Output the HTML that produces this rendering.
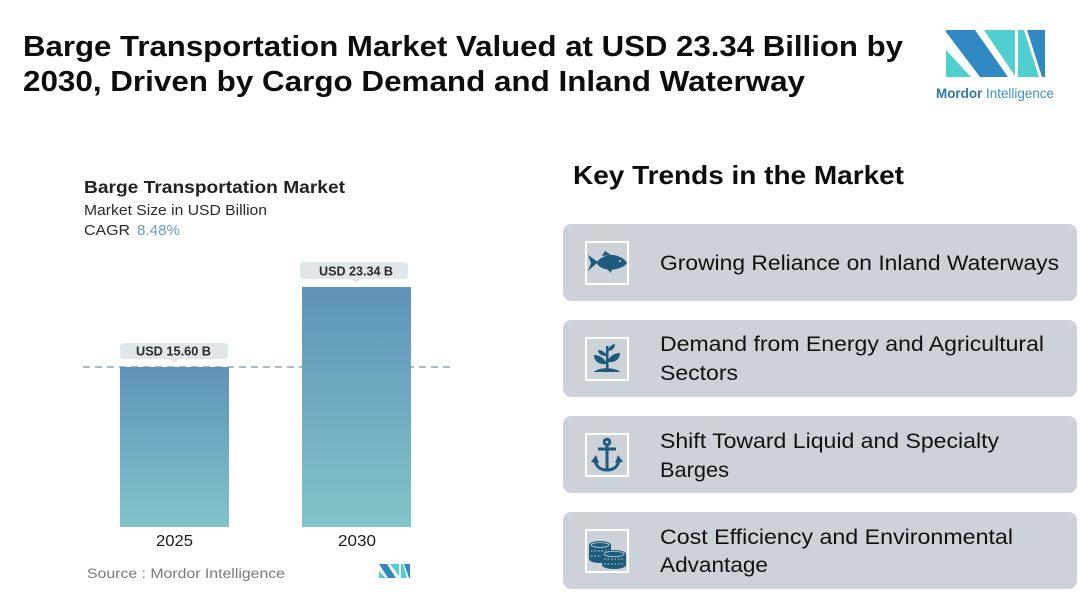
<!DOCTYPE html>
<html><head><meta charset="utf-8">
<style>html,body{margin:0;padding:0;background:#fff;}svg{display:block}</style>
</head><body>
<svg width="1080" height="595" viewBox="0 0 1080 595" xmlns="http://www.w3.org/2000/svg" font-family="'Liberation Sans', sans-serif">
<defs>
<linearGradient id="bar" x1="0" y1="0" x2="0" y2="1">
<stop offset="0" stop-color="#5f93b9"/>
<stop offset="1" stop-color="#81c4c9"/>
</linearGradient>
</defs>
<rect width="1080" height="595" fill="#fff"/>

<!-- Title -->
<text x="23" y="56" font-size="28.5" font-weight="bold" fill="#0d0d0d" textLength="880" lengthAdjust="spacingAndGlyphs">Barge Transportation Market Valued at USD 23.34 Billion by</text>
<text x="23" y="91" font-size="28.5" font-weight="bold" fill="#0d0d0d" textLength="782" lengthAdjust="spacingAndGlyphs">2030, Driven by Cargo Demand and Inland Waterway</text>

<!-- Logo -->
<g>
<polygon points="946,50 946,77 971,77" fill="#4fcfd0"/>
<polygon points="946,30 975,30 1008,77 980,77 946,32" fill="#3189c4"/>
<polygon points="984,30 1015,30 1015,76" fill="#4fcfd0"/>
<polygon points="1018,30 1024,30 1039,77 1018,77" fill="#4fcfd0"/>
<polygon points="1027,30 1045,30 1045,77 1042,77" fill="#3189c4"/>
<text x="936" y="98" font-size="14" textLength="118" lengthAdjust="spacingAndGlyphs"><tspan fill="#2a78ad" font-weight="bold">Mordor</tspan><tspan fill="#3b90c2"> Intelligence</tspan></text>
</g>

<!-- Chart header -->
<text x="84" y="193" font-size="17.5" font-weight="bold" fill="#222" textLength="261" lengthAdjust="spacingAndGlyphs">Barge Transportation Market</text>
<text x="84" y="215" font-size="15" fill="#2a2a2a" textLength="183" lengthAdjust="spacingAndGlyphs">Market Size in USD Billion</text>
<text x="84" y="235" font-size="15" fill="#2a2a2a" textLength="46" lengthAdjust="spacingAndGlyphs">CAGR</text>
<text x="137" y="235" font-size="15" fill="#6a9cc0" textLength="43" lengthAdjust="spacingAndGlyphs">8.48%</text>

<!-- Dashed line (behind bars) -->
<line x1="83" y1="367" x2="450" y2="367" stroke="#6e92ab" stroke-width="1.2" stroke-dasharray="7,5"/>
<!-- Bars -->
<rect x="120" y="367" width="109" height="160" fill="url(#bar)"/>
<rect x="302" y="287" width="109" height="240" fill="url(#bar)"/>

<!-- Pills -->
<rect x="120" y="343" width="108" height="16" rx="4" fill="#dfe7ea"/>
<polygon points="169,359 179,359 174,363" fill="#dfe7ea"/>
<text x="136" y="355.5" font-size="13" font-weight="bold" fill="#2a2a2a" textLength="75" lengthAdjust="spacingAndGlyphs">USD 15.60 B</text>
<rect x="300" y="262" width="108" height="17" rx="4" fill="#dfe7ea"/>
<polygon points="351,279 361,279 356,283" fill="#dfe7ea"/>
<text x="319" y="275.5" font-size="13" font-weight="bold" fill="#2a2a2a" textLength="74" lengthAdjust="spacingAndGlyphs">USD 23.34 B</text>

<!-- Year labels -->
<text x="156" y="546" font-size="15.5" fill="#1a1a1a" textLength="37" lengthAdjust="spacingAndGlyphs">2025</text>
<text x="338" y="546" font-size="15.5" fill="#1a1a1a" textLength="38" lengthAdjust="spacingAndGlyphs">2030</text>

<!-- Source -->
<text x="87" y="578" font-size="13.5" fill="#7a7a7a" textLength="198" lengthAdjust="spacingAndGlyphs">Source :  Mordor Intelligence</text>
<g>
<polygon points="379,571 379,578 386,578" fill="#4fcfd0"/>
<polygon points="379,564 387,564 396,578 388,578" fill="#3189c4"/>
<polygon points="390,564 399,564 399,576" fill="#4fcfd0"/>
<polygon points="401,564 403,564 407,578 401,578" fill="#4fcfd0"/>
<polygon points="404,564 410,564 410,578 409,578" fill="#3189c4"/>
</g>

<!-- Key trends -->
<text x="573" y="184" font-size="26" font-weight="bold" fill="#0d0d0d" textLength="331" lengthAdjust="spacingAndGlyphs">Key Trends in the Market</text>

<rect x="563" y="224" width="514" height="77" rx="8" fill="#cdd2d8"/>
<rect x="563" y="320" width="514" height="77" rx="8" fill="#cdd2d8"/>
<rect x="563" y="416" width="514" height="77" rx="8" fill="#cdd2d8"/>
<rect x="563" y="512" width="514" height="77" rx="8" fill="#cdd2d8"/>

<!-- icon boxes -->
<rect x="586" y="242" width="42" height="42" fill="none" stroke="#fff" stroke-width="2"/>
<rect x="586" y="338" width="42" height="42" fill="none" stroke="#fff" stroke-width="2"/>
<rect x="586" y="434" width="42" height="42" fill="none" stroke="#fff" stroke-width="2"/>
<rect x="586" y="530" width="42" height="42" fill="none" stroke="#fff" stroke-width="2"/>

<!-- fish -->
<g fill="#1d5b7c">
<path d="M597,262 C602,255 613,253 620,257 C624,259 626,261 627,263 C625,266 621,268 616,269 C609,271 601,269 597,264 Z"/>
<polygon points="588,255 598,262 588,271 591,263"/>
<polygon points="602,256 605,251 611,255"/>
<polygon points="607,269 611,273 612,268"/>
</g>
<circle cx="620" cy="261" r="1" fill="#cdd2d8"/>

<!-- plant -->
<g fill="#1d5b7c">
<rect x="606" y="346" width="2.5" height="26"/>
<path d="M594,372 C598,367 616,367 620,372 Z"/>
<path d="M606,362 C602,355 595,355 594,355 C594,361 599,365 606,364 Z"/>
<path d="M608,360 C612,353 619,353 620,353 C620,359 615,363 608,362 Z"/>
<path d="M606,354 C603,350 599,350 598,350 C598,354 602,356 606,356 Z"/>
<path d="M608,350 C610,345 614,344 615,344 C615,348 612,351 608,351 Z"/>
</g>

<!-- anchor -->
<g fill="none" stroke="#1d5b7c" stroke-width="3">
<circle cx="607" cy="442" r="2.8"/>
<line x1="607" y1="445" x2="607" y2="469"/>
<line x1="598" y1="449" x2="616" y2="449"/>
<path d="M595,460 C596,467 601,470 607,470 C613,470 618,467 619,460"/>
</g>
<g fill="#1d5b7c">
<polygon points="591,462 596,455 599,463"/>
<polygon points="623,462 618,455 615,463"/>
</g>

<!-- coins -->
<g fill="#1d5b7c">
<ellipse cx="600" cy="545" rx="11" ry="4"/>
<rect x="589" y="545" width="22" height="14"/>
<ellipse cx="600" cy="559" rx="11" ry="4"/>
<ellipse cx="614" cy="554" rx="12" ry="4"/>
<rect x="602" y="554" width="24" height="11"/>
<ellipse cx="614" cy="565" rx="12" ry="4"/>
</g>
<g stroke="#cdd2d8" stroke-width="1" stroke-dasharray="1.5,2" fill="none">
<line x1="591" y1="551" x2="609" y2="551"/>
<line x1="591" y1="556" x2="602" y2="556"/>
<line x1="604" y1="559" x2="624" y2="559"/>
<line x1="604" y1="564" x2="624" y2="564"/>
</g>
<ellipse cx="614" cy="554" rx="10" ry="2.6" fill="none" stroke="#cdd2d8" stroke-width="0.8"/>
<ellipse cx="600" cy="545" rx="9" ry="2.4" fill="none" stroke="#cdd2d8" stroke-width="0.8"/>

<!-- card texts -->
<g font-size="21" fill="#111">
<text x="660" y="270" textLength="399" lengthAdjust="spacingAndGlyphs">Growing Reliance on Inland Waterways</text>
<text x="660" y="351" textLength="384" lengthAdjust="spacingAndGlyphs">Demand from Energy and Agricultural</text>
<text x="660" y="380" textLength="78" lengthAdjust="spacingAndGlyphs">Sectors</text>
<text x="660" y="448" textLength="339" lengthAdjust="spacingAndGlyphs">Shift Toward Liquid and Specialty</text>
<text x="660" y="477" textLength="69" lengthAdjust="spacingAndGlyphs">Barges</text>
<text x="660" y="544" textLength="353" lengthAdjust="spacingAndGlyphs">Cost Efficiency and Environmental</text>
<text x="660" y="572" textLength="108" lengthAdjust="spacingAndGlyphs">Advantage</text>
</g>
</svg>
</body></html>
